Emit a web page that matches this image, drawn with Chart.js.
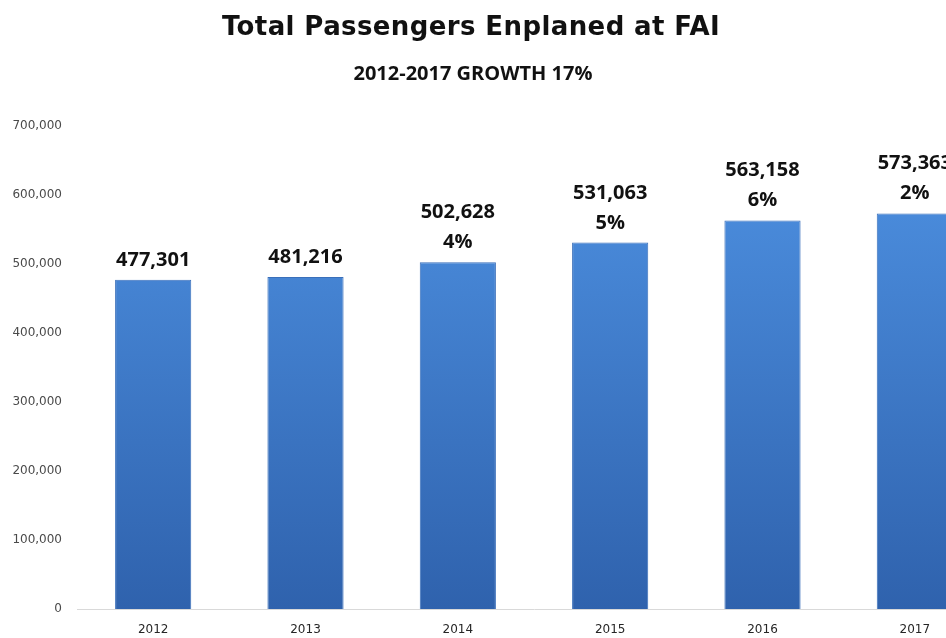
<!DOCTYPE html>
<html>
<head>
<meta charset="utf-8">
<script src="https://cdn.jsdelivr.net/npm/chart.js@4/dist/chart.umd.min.js"></script>
<style>
  html, body { margin: 0; padding: 0; background: #fff; overflow: hidden; }
  #wrap { position: relative; width: 946px; height: 638px; overflow: hidden; }
  #title { position: absolute; left: -2px; width: 946px; top: 11px; text-align: center;
    font: bold 26px "DejaVu Sans", sans-serif; letter-spacing: 0.4px; color: #111; }
  #sub { position: absolute; left: 0; width: 946px; top: 59px; text-align: center;
    font: bold 20px "Open Sans", sans-serif; color: #111; }
  #box { position: absolute; left: 0; top: 0; width: 1000px; height: 638px; }
</style>
</head>
<body>
<div id="wrap">
  <div id="box"><canvas id="chart"></canvas></div>
  <div id="title">Total Passengers Enplaned at FAI</div>
  <div id="sub">2012-2017 GROWTH 17%</div>
</div>
<script>
const d = document;

// datos
const years = ['2012','2013','2014','2015','2016','2017'];
const passengers = [477301, 481216, 502628, 531063, 563158, 573363];
const growth = ['', '', '4%', '5%', '6%', '2%'];
const yTicks = [0, 100000, 200000, 300000, 400000, 500000, 600000, 700000];

// etiquetas encima de las barras
const barLabels = {
  id: 'barLabels',
  afterDatasetsDraw(chart) {
    const ctx = chart.ctx;
    const meta = chart.getDatasetMeta(0);
    ctx.save();
    ctx.font = 'bold 20px "Open Sans", sans-serif';
    ctx.fillStyle = '#111';
    ctx.textAlign = 'center';
    ctx.textBaseline = 'alphabetic';
    meta.data.forEach((bar, i) => {
      const val = passengers[i].toLocaleString('en-US');
      let base = bar.y - 14;
      if (growth[i]) {
        ctx.fillText(growth[i], bar.x, base);
        base -= 30;
      }
      ctx.fillText(val, bar.x, base);
    });
    ctx.restore();
  }
};

const $chart = d.getElementById('chart').getContext('2d');

new Chart($chart, {
  type: 'bar',
  data: {
    labels: years,
    datasets: [{
      data: passengers,
      backgroundColor: (c) => {
        const area = c.chart.chartArea;
        if (!area) return '#3f7bcc';
        const g = c.chart.ctx.createLinearGradient(0, area.top, 0, area.bottom);
        g.addColorStop(0, '#4f93e4');
        g.addColorStop(1, '#2f62ad');
        return g;
      },
      borderColor: '#3a6fba',
      borderWidth: 1,
      borderSkipped: 'bottom',
      barPercentage: 0.5,
      categoryPercentage: 1
    }]
  },
  plugins: [barLabels],
  options: {
    responsive: true,
    maintainAspectRatio: false,
    animation: false,
    layout: { padding: { top: 126, right: 9, bottom: 0, left: 0 } },
    plugins: {
      legend: { display: false },
      tooltip: { enabled: false }
    },
    scales: {
      x: {
        grid: { display: false, drawTicks: false },
        border: { display: true, color: '#d9d9d9', width: 1 },
        ticks: { color: '#262626', padding: 14, font: { family: 'DejaVu Sans', size: 12 } },
        afterFit: (s) => { s.height = 29; }
      },
      y: {
        min: 0,
        max: 700000,
        afterBuildTicks: (s) => { s.ticks = yTicks.map(v => ({ value: v })); },
        grid: { display: false, drawTicks: false },
        border: { display: false },
        ticks: {
          color: '#4a4a4a',
          padding: 15,
          font: { family: 'DejaVu Sans', size: 12 },
          callback: (v) => v.toLocaleString('en-US')
        },
        afterFit: (s) => { s.width = 77; }
      }
    }
  }
});
</script>
</body>
</html>
